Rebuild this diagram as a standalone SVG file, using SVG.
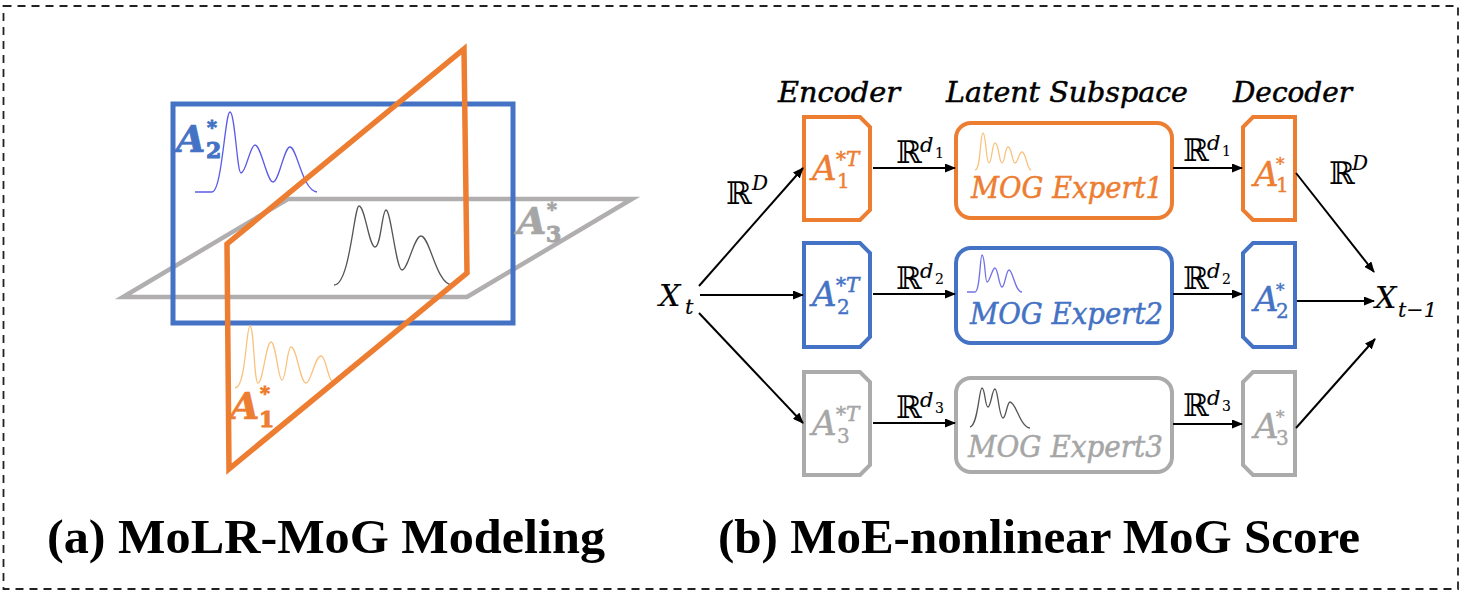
<svg xmlns="http://www.w3.org/2000/svg" width="1461" height="592" viewBox="0 0 1461 592">
  <defs>
    <marker id="arrow" markerUnits="userSpaceOnUse" markerWidth="11" markerHeight="9" refX="10" refY="4.5" orient="auto">
      <path d="M0,0 L11,4.5 L0,9 Z" fill="#000"/>
    </marker>
    <style>
      .math { font-family: "DejaVu Serif", "Liberation Serif", serif; font-style: italic; paint-order: stroke; stroke-width: 0.5; }
      .up { font-family: "DejaVu Serif", "Liberation Serif", serif; font-style: normal; paint-order: stroke; stroke-width: 0.4; }
      .bb { font-family: "DejaVu Serif", "DejaVu Sans", serif; font-style: normal; }
      .hdr { font-family: "DejaVu Serif", "Liberation Serif", serif; font-style: italic; font-size: 27px; fill: #000; stroke: #000; stroke-width: 0.5; }
      .cap { font-family: "Liberation Serif", "Times New Roman", serif; font-weight: bold; font-size: 49px; fill: #000; }
      .lbl3d { font-family: "DejaVu Serif", serif; font-style: italic; font-weight: bold; }
      .lbl3u { font-family: "DejaVu Serif", serif; font-style: normal; font-weight: bold; }
      .conn { stroke: #000; stroke-width: 2; fill: none; marker-end: url(#arrow); }
      .or { stroke: #ED7D31; }
      .bl { stroke: #4472C4; }
      .gr { stroke: #ABABAB; }
      .fo { fill: #ED7D31; stroke: #ED7D31; }
      .fb { fill: #4472C4; stroke: #4472C4; }
      .fg { fill: #A6A6A6; stroke: #A6A6A6; }
      .fk { fill: #000; stroke: #000; }
      .thin { stroke-width: 0.15; }
      .box { fill: #fff; stroke-width: 4; }
      .curve { fill: none; stroke-width: 1.3; }
    </style>
  </defs>

  <rect x="3.5" y="6" width="1454.5" height="583" fill="none" stroke="#222" stroke-width="1.8" stroke-dasharray="8 6"/>

  <!-- (a) three subspace planes -->
  <g id="panel-a">
    <g id="plane-3">
      <polygon points="288,199 632,199 467,297 123,297" fill="none" stroke="#B0AEAE" stroke-width="4.5"/>
      <path class="curve" stroke="#555" d="M334,285 C350,285 354,206 359,206 C365,206 369,247 375,247 C381,247 382,210 386,210 C391,210 396,270 402,270 C408,270 414,236 421,236 C430,236 436,284 452,285"/>
    </g>
    <g id="plane-2">
      <rect x="173" y="104" width="340" height="219" fill="none" stroke="#4472C4" stroke-width="5"/>
      <path class="curve" stroke="#5B5BE8" d="M195,192 L212,192 C222,192 225,112 230,112 C235,112 237,173 241,173 C246,173 250,145 255,145 C261,145 267,182 273,182 C279,182 284,147 290,147 C297,147 302,190 317,192"/>
    </g>
    <g id="plane-1">
      <path class="curve" stroke="#F9C27E" d="M235,388 C246,388 246,326 250,326 C254,326 254,383 258,383 C263,383 266,342 271,342 C276,342 278,380 282,380 C286,380 287,347 291,347 C297,347 300,383 306,383 C311,383 315,356 321,356 C326,356 328,380 332,381"/>
      <polygon points="464,49 467,273 229,469 227,244" fill="none" stroke="#ED7D31" stroke-width="5.5"/>
    </g>
    <g id="label-a2">
      <text class="lbl3d fb" x="176" y="152" font-size="38" stroke-width="0.6">A</text>
      <text class="lbl3u fb" x="207" y="134" font-size="19">*</text>
      <text class="lbl3u fb" x="206" y="158" font-size="22">2</text>
    </g>
    <g id="label-a3">
      <text class="lbl3d fg" x="517" y="234" font-size="38" stroke-width="0.6">A</text>
      <text class="lbl3u fg" x="547" y="216" font-size="19">*</text>
      <text class="lbl3u fg" x="546" y="242" font-size="22">3</text>
    </g>
    <g id="label-a1">
      <text class="lbl3d fo" x="230" y="419" font-size="38" stroke-width="0.6">A</text>
      <text class="lbl3u fo" x="260" y="400" font-size="19">*</text>
      <text class="lbl3u fo" x="259" y="427" font-size="22">1</text>
    </g>
  </g>

  <!-- (b) column headers -->
  <text class="hdr" x="778" y="102" textLength="122" lengthAdjust="spacingAndGlyphs">Encoder</text>
  <text class="hdr" x="946" y="102" textLength="242" lengthAdjust="spacingAndGlyphs">Latent Subspace</text>
  <text class="hdr" x="1233" y="102" textLength="119" lengthAdjust="spacingAndGlyphs">Decoder</text>

  <!-- input / output -->
  <g id="xt">
    <text class="math fk thin" x="659" y="306" font-size="30">X</text>
    <text class="math fk thin" x="685" y="314" font-size="21">t</text>
  </g>
  <g id="xt1">
    <text class="math fk thin" x="1375" y="308" font-size="30">X</text>
    <text class="math fk thin" x="1398" y="317" font-size="21" textLength="39" lengthAdjust="spacingAndGlyphs">t−1</text>
  </g>

  <!-- encoders -->
  <g id="enc1">
    <path class="box or" d="M804,117 H860 L870,127 V210 L860,220 H804 Z"/>
    <text class="math fo" x="812" y="180" font-size="34">A</text>
    <text class="math fo" x="836" y="166" font-size="20">*T</text>
    <text class="up fo" x="837" y="188" font-size="20">1</text>
  </g>
  <g id="enc2">
    <path class="box bl" d="M804,243 H860 L870,253 V337 L860,347 H804 Z"/>
    <text class="math fb" x="812" y="306" font-size="34">A</text>
    <text class="math fb" x="836" y="292" font-size="20">*T</text>
    <text class="up fb" x="837" y="314" font-size="20">2</text>
  </g>
  <g id="enc3">
    <path class="box gr" d="M804,372 H860 L870,382 V465 L860,475 H804 Z"/>
    <text class="math fg" x="812" y="435" font-size="34">A</text>
    <text class="math fg" x="836" y="421" font-size="20">*T</text>
    <text class="up fg" x="837" y="443" font-size="20">3</text>
  </g>

  <!-- latent MoG experts -->
  <g id="expert1">
    <rect class="box or" x="956" y="123" width="216" height="95" rx="15"/>
    <path class="curve" stroke="#F9C27E" d="M975,170 C981,170 980,133 983,133 C986,133 986,163 989,163 C992,163 992,143 995,143 C999,143 999,163 1002,163 C1005,163 1005,147 1008,147 C1012,147 1012,163 1015,163 C1018,163 1019,152 1022,152 C1026,152 1027,170 1031,170"/>
    <text class="math fo" x="971" y="198" font-size="29" textLength="192" lengthAdjust="spacingAndGlyphs">MOG Expert1</text>
  </g>
  <g id="expert2">
    <rect class="box bl" x="956" y="248" width="216" height="95" rx="15"/>
    <path class="curve" stroke="#7272E6" d="M967,292 L975,292 C980,292 980,255 982,255 C985,255 985,282 987,282 C990,282 992,268 995,268 C998,268 999,287 1002,287 C1005,287 1006,270 1009,270 C1013,270 1015,292 1022,292"/>
    <text class="math fb" x="970" y="324" font-size="29" textLength="193" lengthAdjust="spacingAndGlyphs">MOG Expert2</text>
  </g>
  <g id="expert3">
    <rect class="box gr" x="956" y="378" width="216" height="94" rx="15" stroke-width="3.5"/>
    <path class="curve" stroke="#555" d="M970,427 C978,426 979,388 982,388 C985,388 985,407 988,407 C991,407 992,389 995,389 C998,389 999,418 1003,418 C1006,418 1007,402 1010,402 C1016,402 1020,427 1030,428"/>
    <text class="math fg" x="968" y="457" font-size="29" textLength="195" lengthAdjust="spacingAndGlyphs">MOG Expert3</text>
  </g>

  <!-- decoders -->
  <g id="dec1">
    <path class="box or" d="M1253,117 H1295 V220 H1253 L1243,210 V127 Z"/>
    <text class="math fo" x="1254" y="186" font-size="34">A</text>
    <text class="up fo" x="1276" y="170" font-size="17">*</text>
    <text class="up fo" x="1276" y="192" font-size="20">1</text>
  </g>
  <g id="dec2">
    <path class="box bl" d="M1253,243 H1295 V347 H1253 L1243,337 V253 Z"/>
    <text class="math fb" x="1254" y="311" font-size="34">A</text>
    <text class="up fb" x="1276" y="296" font-size="17">*</text>
    <text class="up fb" x="1276" y="318" font-size="20">2</text>
  </g>
  <g id="dec3">
    <path class="box gr" d="M1253,372 H1295 V475 H1253 L1243,465 V382 Z"/>
    <text class="math fg" x="1254" y="438" font-size="34">A</text>
    <text class="up fg" x="1276" y="423" font-size="17">*</text>
    <text class="up fg" x="1276" y="445" font-size="20">3</text>
  </g>

  <!-- connectors -->
  <g id="connectors">
    <line class="conn" x1="699" y1="286" x2="803" y2="168"/>
    <line class="conn" x1="700" y1="295" x2="803" y2="295"/>
    <line class="conn" x1="699" y1="313" x2="803" y2="423"/>
    <line class="conn" x1="873" y1="168" x2="955" y2="168"/>
    <line class="conn" x1="873" y1="294" x2="955" y2="294"/>
    <line class="conn" x1="873" y1="423" x2="955" y2="423"/>
    <line class="conn" x1="1173" y1="168" x2="1242" y2="168"/>
    <line class="conn" x1="1173" y1="294" x2="1242" y2="294"/>
    <line class="conn" x1="1173" y1="424" x2="1242" y2="424"/>
    <line class="conn" x1="1296" y1="173" x2="1374" y2="272"/>
    <line class="conn" x1="1297" y1="301" x2="1374" y2="301"/>
    <line class="conn" x1="1296" y1="428" x2="1375" y2="339"/>
  </g>

  <!-- space labels -->
  <g id="space-labels">
    <text class="bb" x="726" y="204" font-size="31">ℝ</text>
    <text class="math fk thin" x="752" y="190" font-size="20">D</text>
    <text class="bb" x="1329" y="184" font-size="31">ℝ</text>
    <text class="math fk thin" x="1352" y="170" font-size="20">D</text>

    <text class="bb" x="896" y="163" font-size="31">ℝ</text>
    <text class="math fk thin" x="920" y="152" font-size="21">d</text>
    <text class="up fk thin" x="935" y="158" font-size="14">1</text>
    <text class="bb" x="1183" y="161" font-size="31">ℝ</text>
    <text class="math fk thin" x="1207" y="150" font-size="21">d</text>
    <text class="up fk thin" x="1222" y="156" font-size="14">1</text>

    <text class="bb" x="896" y="289" font-size="31">ℝ</text>
    <text class="math fk thin" x="920" y="278" font-size="21">d</text>
    <text class="up fk thin" x="935" y="284" font-size="14">2</text>
    <text class="bb" x="1183" y="289" font-size="31">ℝ</text>
    <text class="math fk thin" x="1207" y="278" font-size="21">d</text>
    <text class="up fk thin" x="1222" y="284" font-size="14">2</text>

    <text class="bb" x="896" y="418" font-size="31">ℝ</text>
    <text class="math fk thin" x="920" y="407" font-size="21">d</text>
    <text class="up fk thin" x="935" y="413" font-size="14">3</text>
    <text class="bb" x="1183" y="416" font-size="31">ℝ</text>
    <text class="math fk thin" x="1207" y="405" font-size="21">d</text>
    <text class="up fk thin" x="1222" y="411" font-size="14">3</text>
  </g>

  <!-- captions -->
  <text class="cap" x="47" y="553" textLength="558" lengthAdjust="spacingAndGlyphs">(a) MoLR-MoG Modeling</text>
  <text class="cap" x="718" y="553" textLength="642" lengthAdjust="spacingAndGlyphs">(b) MoE-nonlinear MoG Score</text>
</svg>
